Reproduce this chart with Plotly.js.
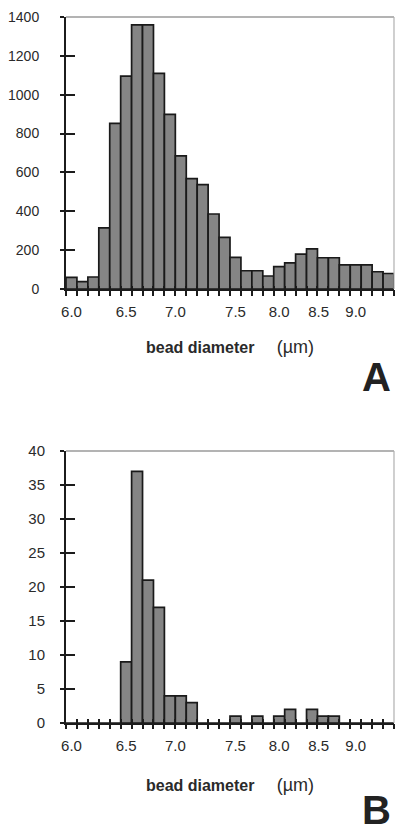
<!DOCTYPE html>
<html>
<head>
<meta charset="utf-8">
<script src="https://cdn.plot.ly/plotly-3.0.1.min.js"></script>
<style>html,body{margin:0;padding:0;background:#fff;}#chart{width:396px;height:834px;}</style>
</head>
<body>
<div id="chart"></div>
<script>
// bin index along the category axis (30 bins)
const binIndex = [0,1,2,3,4,5,6,7,8,9,10,11,12,13,14,15,16,17,18,19,20,21,22,23,24,25,26,27,28,29];
// Panel A counts
const countsA = [60,38,62,315,853,1096,1359,1359,1110,899,685,568,537,386,266,163,94,94,67,115,135,180,207,161,161,124,124,124,89,80];
// Panel B counts
const countsB = [0,0,0,0,0,9,37,21,17,4,4,3,0,0,0,1,0,1,0,1,2,0,2,1,1,0,0,0,0,0];
// tick labels (bead diameter, µm) and the bin position they sit under
const tickLabels = ['6.0','6.5','7.0','7.5','8.0','8.5','9.0'];
const tickAt = [0,5,9.5,15,19,22.6,26];
const boundaryTicks = [-0.5,0.5,1.5,2.5,3.5,4.5,5.5,6.5,7.5,8.5,9.5,10.5,11.5,12.5,13.5,14.5,15.5,16.5,17.5,18.5,19.5,20.5,21.5,22.5,23.5,24.5,25.5,26.5,27.5,28.5,29.5];
const yMaxA = 1400, yStepA = 200;
const yMaxB = 40, yStepB = 5;
const xTitle = '<b>bead diameter</b>\u00a0\u00a0\u00a0\u00a0\u00a0<span style="font-size:18px">(µm)</span>';

const barFill = '#858585', barEdge = '#1a1a1a', ink = '#1c1c1c';

const traces = [
  {type:'bar', x:binIndex, y:countsA, xaxis:'x', yaxis:'y', width:1,
   marker:{color:barFill, line:{color:barEdge, width:1.7}}, hoverinfo:'x+y'},
  {type:'bar', x:binIndex, y:countsB, xaxis:'x2', yaxis:'y2', width:1,
   marker:{color:barFill, line:{color:barEdge, width:1.7}}, hoverinfo:'x+y'},
  {type:'scatter', x:[], y:[], xaxis:'x3', yaxis:'y'},
  {type:'scatter', x:[], y:[], xaxis:'x5', yaxis:'y'},
  {type:'scatter', x:[], y:[], xaxis:'x', yaxis:'y3'},
  {type:'scatter', x:[], y:[], xaxis:'x4', yaxis:'y2'},
  {type:'scatter', x:[], y:[], xaxis:'x6', yaxis:'y2'},
  {type:'scatter', x:[], y:[], xaxis:'x2', yaxis:'y4'}
];

const xr = [-0.5, 29.5];
function labelX(anchor, titleStandoff){
  return {anchor:anchor, domain:[0,1], range:xr, tickmode:'array', tickvals:tickAt, ticktext:tickLabels,
    ticks:'', showline:true, linecolor:ink, linewidth:2, showgrid:false, zeroline:false,
    tickfont:{size:15, color:'#2a2a2a'}, ticklabelstandoff:8,
    title:{text:xTitle, font:{size:16, color:'#2a2a2a'}, standoff:titleStandoff}};
}
function tickX(over, anchor, side, len){
  return {overlaying:over, anchor:anchor, range:xr, tickmode:'array', tickvals:boundaryTicks,
    ticks:side, ticklen:len, tickwidth:2, tickcolor:ink, showticklabels:false,
    showline:false, showgrid:false, zeroline:false};
}
function labelY(anchor, dom, ymax, step, fsize, standoff){
  return {anchor:anchor, domain:dom, range:[0,ymax], tickmode:'linear', tick0:0, dtick:step,
    ticks:'outside', ticklen:4, tickwidth:2, tickcolor:ink, showline:true, linecolor:ink, linewidth:2,
    showgrid:false, zeroline:false, tickfont:{size:fsize, color:'#2a2a2a'}, ticklabelstandoff:standoff};
}
function tickY(over, anchor, ymax, step){
  return {overlaying:over, anchor:anchor, range:[0,ymax], tickmode:'linear', tick0:0, dtick:step,
    ticks:'inside', ticklen:9, tickwidth:2, tickcolor:ink, showticklabels:false,
    showline:false, showgrid:false, zeroline:false};
}
const domA = [0.6147, 1], domB = [0, 0.3853];
function frame(xr_, yr_){
  return [
    {type:'line', xref:xr_+' domain', yref:yr_+' domain', x0:0, x1:1, y0:1, y1:1, line:{color:'#9a9a9a', width:1.5}},
    {type:'line', xref:xr_+' domain', yref:yr_+' domain', x0:1, x1:1, y0:0, y1:1, line:{color:'#b0b0b0', width:1.2}}
  ];
}

const layout = {
  width:396, height:834,
  margin:{l:66, r:2, t:17, b:111},
  paper_bgcolor:'#ffffff', plot_bgcolor:'#ffffff',
  bargap:0, showlegend:false,
  font:{family:'"Liberation Sans", Arial, sans-serif', color:'#2a2a2a'},
  xaxis: labelX('y', 23),
  xaxis3: tickX('x','y','outside',6),
  xaxis5: tickX('x','y','inside',3),
  yaxis: labelY('x', domA, yMaxA, yStepA, 14, 18),
  yaxis3: tickY('y','x', yMaxA, yStepA),
  xaxis2: labelX('y2', 27),
  xaxis4: tickX('x2','y2','outside',5),
  xaxis6: tickX('x2','y2','inside',4),
  yaxis2: labelY('x2', domB, yMaxB, yStepB, 15, 12),
  yaxis4: tickY('y2','x2', yMaxB, yStepB),
  shapes: frame('x','y').concat(frame('x2','y2')),
  annotations:[
    {xref:'paper', yref:'paper', x:0.948, y:0.49, text:'<b>A</b>', showarrow:false,
     font:{size:40, color:'#222'}, xanchor:'center', yanchor:'middle'},
    {xref:'paper', yref:'paper', x:0.948, y:-0.123, text:'<b>B</b>', showarrow:false,
     font:{size:40, color:'#222'}, xanchor:'center', yanchor:'middle'}
  ]
};

Plotly.newPlot('chart', traces, layout, {displayModeBar:false, staticPlot:true});
</script>
</body>
</html>
